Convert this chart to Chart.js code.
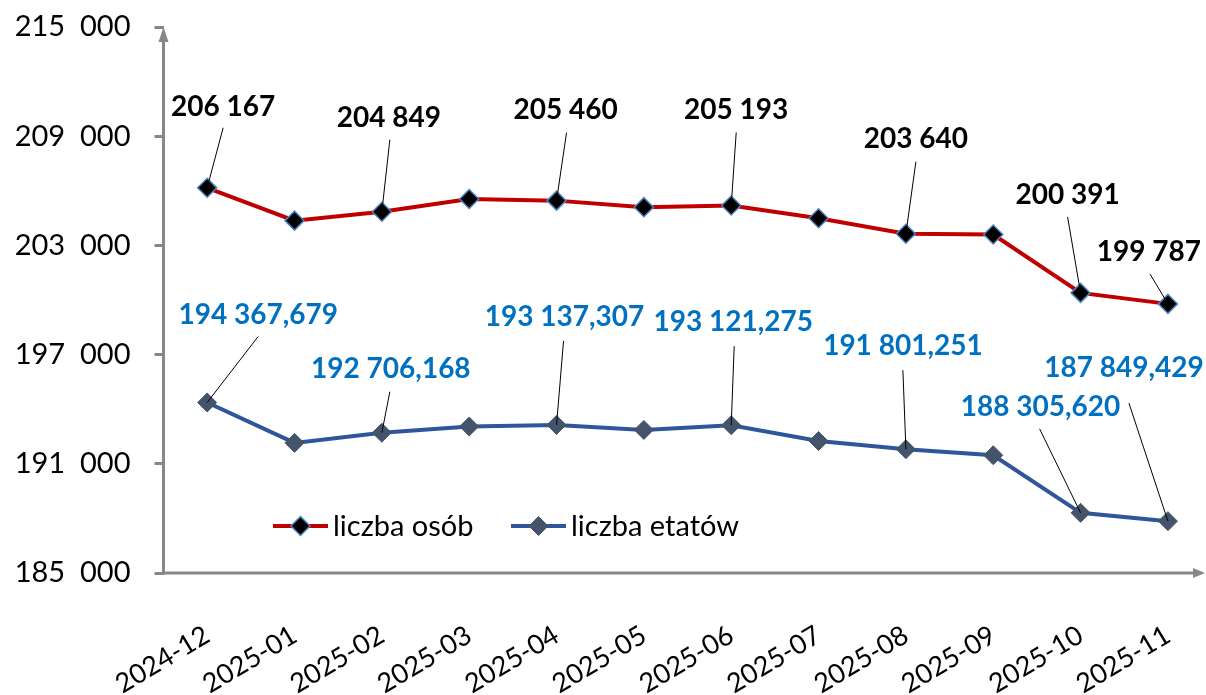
<!DOCTYPE html>
<html><head><meta charset="utf-8">
<script src="https://cdn.jsdelivr.net/npm/chart.js@4.4.1/dist/chart.umd.min.js"></script>
<style>html,body{margin:0;padding:0;background:#fff;overflow:hidden}canvas{display:block}</style>
</head><body>
<canvas id="c" width="1206" height="695"></canvas>
<script>
const categories = ['2024-12','2025-01','2025-02','2025-03','2025-04','2025-05','2025-06','2025-07','2025-08','2025-09','2025-10','2025-11'];
const seriesNames = ['liczba osób','liczba etatów'];
const osoby = [206167, 204360, 204849, 205550, 205460, 205100, 205193, 204490, 203640, 203600, 200391, 199787];
const etaty = [194367.679, 192150, 192706.168, 193050, 193137.307, 192860, 193121.275, 192250, 191801.251, 191470, 188305.620, 187849.429];
const labelledIdx = [0, 2, 4, 6, 8, 10, 11];
const yTicks = [185000, 191000, 197000, 203000, 209000, 215000];

// label placement relative to the point: [dx, dy (text centre), lx, ly (leader start)]
const osobyLabelPos = {0:[16,-81,16,-60],2:[7,-94,8,-72],4:[9,-91,10,-68],6:[5,-96,5,-73],8:[10,-95,10,-72],10:[-13,-98,-13,-76],11:[-19,-52,-18,-30]};
const etatyLabelPos = {0:[51,-88,51,-66],2:[9,-64,8,-41],4:[8,-108,7,-84],6:[2,-103,3,-79],8:[-3,-103,-3,-79],10:[-40,-106,-41,-84],11:[-44,-153,-39,-118]};

const FONT = 'Lato, "Open Sans", sans-serif';
Chart.defaults.font.family = FONT;

function fmtInt(v, sep){ return Math.round(v).toString().replace(/\B(?=(\d{3})+(?!\d))/g, sep || ' '); }
function fmtDec(v){ const p = v.toFixed(3).split('.'); return fmtInt(+p[0]) + ',' + p[1]; }

const AXIS_COLOR = '#878787';

const axesPlugin = {
  id: 'axesArrows',
  beforeDatasetsDraw(chart){
    const {ctx, chartArea:a} = chart;
    ctx.save();
    ctx.strokeStyle = AXIS_COLOR; ctx.fillStyle = AXIS_COLOR; ctx.lineWidth = 3;
    const x0 = a.left, y0 = a.bottom, xEnd = chart.width - 1;
    ctx.beginPath(); ctx.moveTo(x0, y0 + 1.5); ctx.lineTo(x0, a.top + 10); ctx.stroke();
    ctx.beginPath(); ctx.moveTo(x0 - 1.5, y0); ctx.lineTo(xEnd - 8, y0); ctx.stroke();
    ctx.beginPath(); ctx.moveTo(x0, a.top); ctx.lineTo(x0 - 5, a.top + 15); ctx.lineTo(x0 + 5, a.top + 15); ctx.closePath(); ctx.fill();
    ctx.beginPath(); ctx.moveTo(xEnd, y0); ctx.lineTo(xEnd - 12, y0 - 5); ctx.lineTo(xEnd - 12, y0 + 5); ctx.closePath(); ctx.fill();
    ctx.restore();
  }
};

const labelsPlugin = {
  id: 'valueLabels',
  afterDatasetsDraw(chart){
    const ctx = chart.ctx;
    const cfg = [
      {pos: osobyLabelPos, color: '#000000', fmt: v => fmtInt(v), values: osoby},
      {pos: etatyLabelPos, color: '#0070C0', fmt: fmtDec, values: etaty}
    ];
    ctx.save();
    cfg.forEach((c, di) => {
      const meta = chart.getDatasetMeta(di);
      labelledIdx.forEach(i => {
        const el = meta.data[i]; const p = c.pos[i];
        if (!el || !p) return;
        ctx.strokeStyle = '#000'; ctx.lineWidth = 1;
        ctx.beginPath(); ctx.moveTo(el.x + p[2], el.y + p[3]); ctx.lineTo(el.x, el.y); ctx.stroke();
        ctx.font = 'bold 28px ' + FONT; ctx.fillStyle = c.color;
        ctx.textAlign = 'center'; ctx.textBaseline = 'middle';
        ctx.fillText(c.fmt(c.values[i]), el.x + p[0], el.y + p[1]);
      });
    });
    ctx.restore();
  }
};

function diamond(ctx, x, y, r, fill, stroke, lw){
  ctx.beginPath(); ctx.moveTo(x - r, y); ctx.lineTo(x, y - r); ctx.lineTo(x + r, y); ctx.lineTo(x, y + r); ctx.closePath();
  ctx.fillStyle = fill; ctx.fill();
  if (lw) { ctx.strokeStyle = stroke; ctx.lineWidth = lw; ctx.stroke(); }
}

const legendPlugin = {
  id: 'innerLegend',
  afterDraw(chart){
    const ctx = chart.ctx;
    const items = [{x: 273}, {x: 511}];
    const y = 526;
    ctx.save();
    chart.data.datasets.forEach((ds, i) => {
      const x = items[i].x;
      ctx.strokeStyle = ds.borderColor; ctx.lineWidth = 4;
      ctx.beginPath(); ctx.moveTo(x, y); ctx.lineTo(x + 55, y); ctx.stroke();
      diamond(ctx, x + 27.5, y, 9.5, ds.pointBackgroundColor, ds.pointBorderColor, ds.pointBorderWidth);
      ctx.font = '29px ' + FONT; ctx.fillStyle = '#000'; ctx.textAlign = 'left'; ctx.textBaseline = 'middle';
      ctx.fillText(ds.label, x + 60, y + 1);
    });
    ctx.restore();
  }
};

new Chart(document.getElementById('c'), {
  type: 'line',
  data: {
    datasets: [
      {label: seriesNames[0], data: osoby.map((v, i) => ({x: i, y: v})), borderColor: '#C00000', borderWidth: 4,
       pointStyle: 'rectRot', pointRadius: 9.5, pointBackgroundColor: '#000000', pointBorderColor: '#4F81BD', pointBorderWidth: 1.5, tension: 0},
      {label: seriesNames[1], data: etaty.map((v, i) => ({x: i, y: v})), borderColor: '#2F559A', borderWidth: 4,
       pointStyle: 'rectRot', pointRadius: 9.5, pointBackgroundColor: '#44546A', pointBorderColor: '#44546A', pointBorderWidth: 1, tension: 0}
    ]
  },
  options: {
    responsive: false, animation: false, devicePixelRatio: 1,
    layout: {padding: {top: 27, right: 1, left: 0, bottom: 0}},
    plugins: {legend: {display: false}, tooltip: {enabled: false}},
    scales: {
      x: {
        type: 'linear', min: -0.5, max: 11.31,
        afterBuildTicks: s => { s.ticks = categories.map((c, i) => ({value: i})); },
        afterFit: s => { s.height = 122; s.paddingLeft = 0; s.paddingRight = 0; },
        ticks: {callback: v => categories[v], minRotation: 31, maxRotation: 31, autoSkip: false,
                font: {size: 27}, color: '#000', padding: 46},
        grid: {display: false, drawTicks: false}, border: {display: false}
      },
      y: {
        min: 185000, max: 215000,
        afterBuildTicks: s => { s.ticks = yTicks.map(v => ({value: v})); },
        afterFit: s => { s.width = 163.5; s.paddingTop = 0; s.paddingBottom = 0; },
        ticks: {callback: v => fmtInt(v, '\u00a0\u00a0'), font: {size: 29}, color: '#000', padding: 24},
        grid: {drawOnChartArea: false, drawTicks: true, tickLength: 9, color: AXIS_COLOR, lineWidth: 3},
        border: {display: false}
      }
    }
  },
  plugins: [axesPlugin, labelsPlugin, legendPlugin]
});
</script>
</body></html>
